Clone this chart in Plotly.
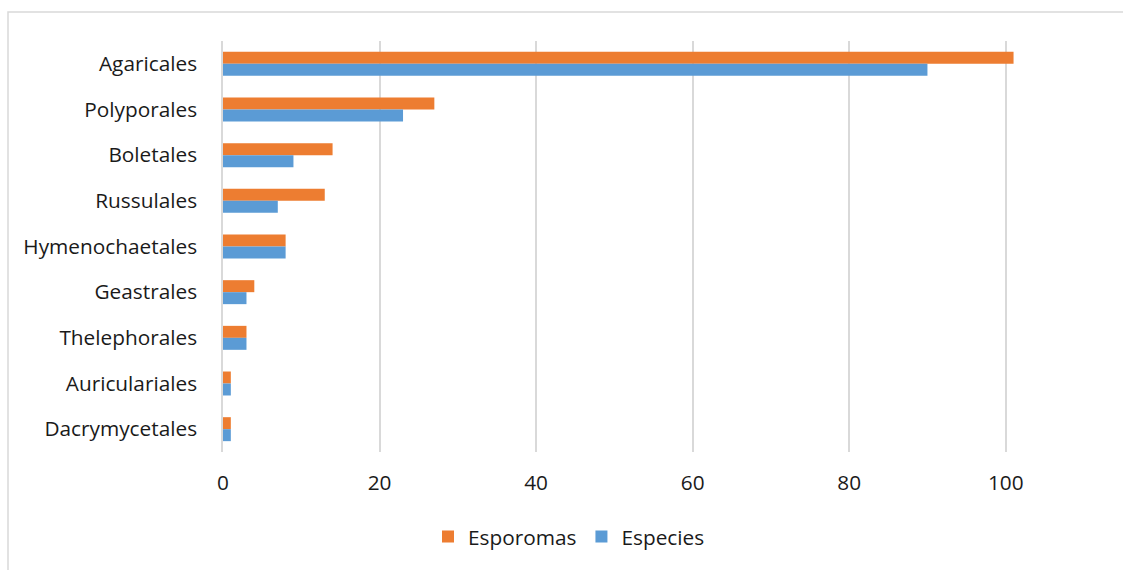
import plotly.graph_objects as go

categories = ["Agaricales", "Polyporales", "Boletales", "Russulales", "Hymenochaetales",
              "Geastrales", "Thelephorales", "Auriculariales", "Dacrymycetales"]
esporomas = [101, 27, 14, 13, 8, 4, 3, 1, 1]
especies = [90, 23, 9, 7, 8, 3, 3, 1, 1]
x_ticks = [0, 20, 40, 60, 80, 100]

W, H = 1123, 570
L, R, T, B = 223, 39, 41, 118
pw, ph = W - L - R, H - T - B

FONT = "Open Sans"
fig = go.Figure()
fig.add_trace(go.Bar(y=categories, x=esporomas, name="Esporomas", orientation="h",
                     marker=dict(color="#ED7D31", line=dict(width=0))))
fig.add_trace(go.Bar(y=categories, x=especies, name="Especies", orientation="h",
                     marker=dict(color="#5B9BD5", line=dict(width=0))))

def px2x(p):
    return (p - L) / pw

def px2y(p):
    return (H - B - p) / ph

fig.update_layout(
    width=W, height=H,
    margin=dict(l=L, r=R, t=T, b=B, autoexpand=False),
    paper_bgcolor="white", plot_bgcolor="white",
    barmode="group", bargap=0.475, bargroupgap=0,
    font=dict(family=FONT, size=20.8, color="#1a1a1a"),
    xaxis=dict(range=[0, 110], tickvals=x_ticks, showgrid=True, gridcolor="#d9d9d9",
               gridwidth=1.5, zeroline=False, showline=False, ticks="",
               ticklabelstandoff=16, fixedrange=True),
    yaxis=dict(range=[8.5, -0.5], type="category", showgrid=False, zeroline=False,
               showline=True, linecolor="#d9d9d9", linewidth=1.5, ticks="",
               ticklabelstandoff=20),
    legend=dict(orientation="h", xref="container", yref="container",
                x=569 / W, y=1 - 537 / H, xanchor="center", yanchor="middle",
                traceorder="normal", font=dict(size=20.8)),
    showlegend=True,
    shapes=[dict(type="rect", xref="paper", yref="paper",
                 x0=px2x(8), x1=px2x(1135), y0=px2y(585), y1=px2y(12),
                 line=dict(color="#d9d9d9", width=1.5), fillcolor="rgba(0,0,0,0)",
                 layer="below")],
)

fig.write_html("out.html")
